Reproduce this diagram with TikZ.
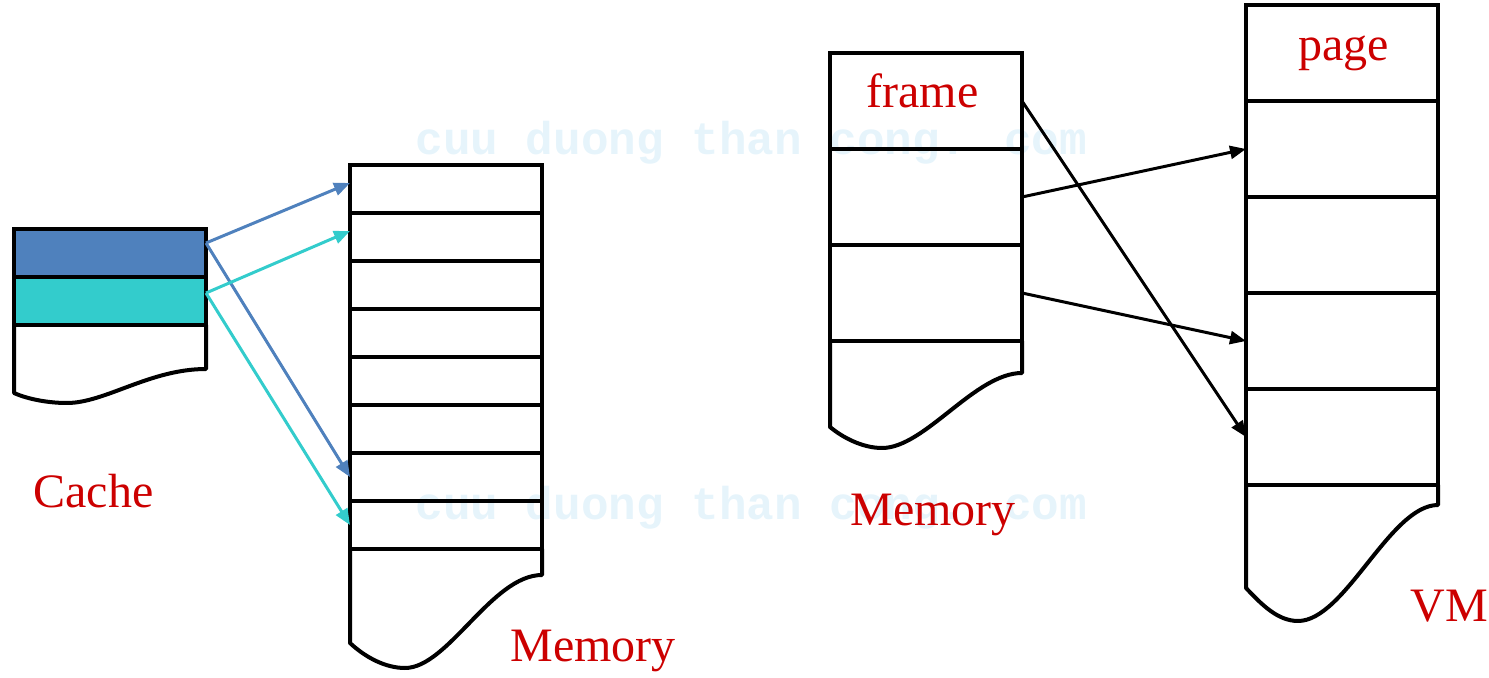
\documentclass[tikz,border=0pt]{standalone}
\usepackage{fontspec}
\setmainfont{Liberation Serif}
\newfontfamily\markfont{Liberation Mono}
\usetikzlibrary{arrows.meta,positioning,calc}
\definecolor{cacheblue}{RGB}{79,129,189}
\definecolor{cacheteal}{RGB}{51,204,204}
\definecolor{labelred}{RGB}{204,0,0}
\definecolor{markblue}{RGB}{230,244,251}
\tikzset{
cell/.style = {draw, line width=2pt, minimum width=96pt, minimum height=#1,
               inner sep=0pt, outer sep=0pt},
cell/.default = 24pt,
tail/.style = {line width=2pt, line join=round},
redtext/.style = {text=labelred, font=\fontsize{24}{28}\selectfont, inner sep=0pt},
arr/.style = {-{Triangle[length=8pt,width=6.5pt]}, line width=1.5pt}}

\begin{document}
\begin{tikzpicture}[x=0.5pt, y=-0.5pt]
  \useasboundingbox (0,0) rectangle (1489,678);
  % watermark
  \foreach \y [count=\k] in {155,520}
    \node[anchor=base west, inner sep=0pt, text=markblue,
          font=\markfont\bfseries\fontsize{23}{23}\selectfont] (mark\k) at (415,\y)
          {cuu duong than cong. com};

  % cache
  \node[cell, fill=cacheblue] (c1) at (110,253) {};
  \node[cell, fill=cacheteal, below=0pt of c1] (c2) {};
  \draw[tail] (c2.south east) -- (206,369) .. controls (150,369) and (105,403) .. (67,403)
    .. controls (45,403) and (25,398) .. (14,393) -- (c2.south west);

  % memory next to the cache
  \node[cell] (m1) at (446,189) {};
  \foreach \i [remember=\i as \j (initially 1)] in {2,...,8}
    \node[cell, below=0pt of m\j] (m\i) {};
  \draw[tail] (m8.south east) -- (542,575) .. controls (492,575) and (448,668) .. (405,668)
    .. controls (385,668) and (365,657) .. (350,643) -- (m8.south west);

  % memory of frames
  \node[cell=48pt] (f1) at (926,101) {};
  \foreach \i [remember=\i as \j (initially 1)] in {2,3}
    \node[cell=48pt, below=0pt of f\j] (f\i) {};
  \draw[tail] (f3.south east) -- (1022,373) .. controls (975,373) and (925,448) .. (882,448)
    .. controls (862,448) and (842,437) .. (830,427) -- (f3.south west);

  % virtual memory
  \node[cell=48pt] (v1) at (1342,53) {};
  \foreach \i [remember=\i as \j (initially 1)] in {2,...,5}
    \node[cell=48pt, below=0pt of v\j] (v\i) {};
  \draw[tail] (v5.south east) -- (1438,505) .. controls (1390,505) and (1345,621) .. (1298,621)
    .. controls (1278,621) and (1262,605) .. (1246,588) -- (v5.south west);

  % labels
  \node[redtext, anchor=base west] (cachelbl) at (33,508) {Cache};
  \node[redtext, anchor=base west] (memlbl) at (510,661) {Memory};
  \node[redtext, anchor=base west] (framememlbl) at (850,525) {Memory};
  \node[redtext, anchor=base west] (vmlbl) at (1410,621) {VM};
  \node[redtext, anchor=base west] (framelbl) at (866,108) {frame};
  \node[redtext, anchor=base west] (pagelbl) at (1298,61) {page};

  % mapping
  \draw[arr, cacheblue] ([yshift=5pt]c1.east) -- ([yshift=3pt]m1.west);
  \draw[arr, cacheblue] ([yshift=5pt]c1.east) -- (m7.west);
  \draw[arr, cacheteal] ([yshift=4pt]c2.east) -- ([yshift=3pt]m2.west);
  \draw[arr, cacheteal] ([yshift=4pt]c2.east) -- (m8.west);
  \draw[arr] (f1.east) -- (v5.west);
  \draw[arr] (f2.east) -- (v2.west);
  \draw[arr] (f3.east) -- (v4.west);
\end{tikzpicture}
\end{document}
